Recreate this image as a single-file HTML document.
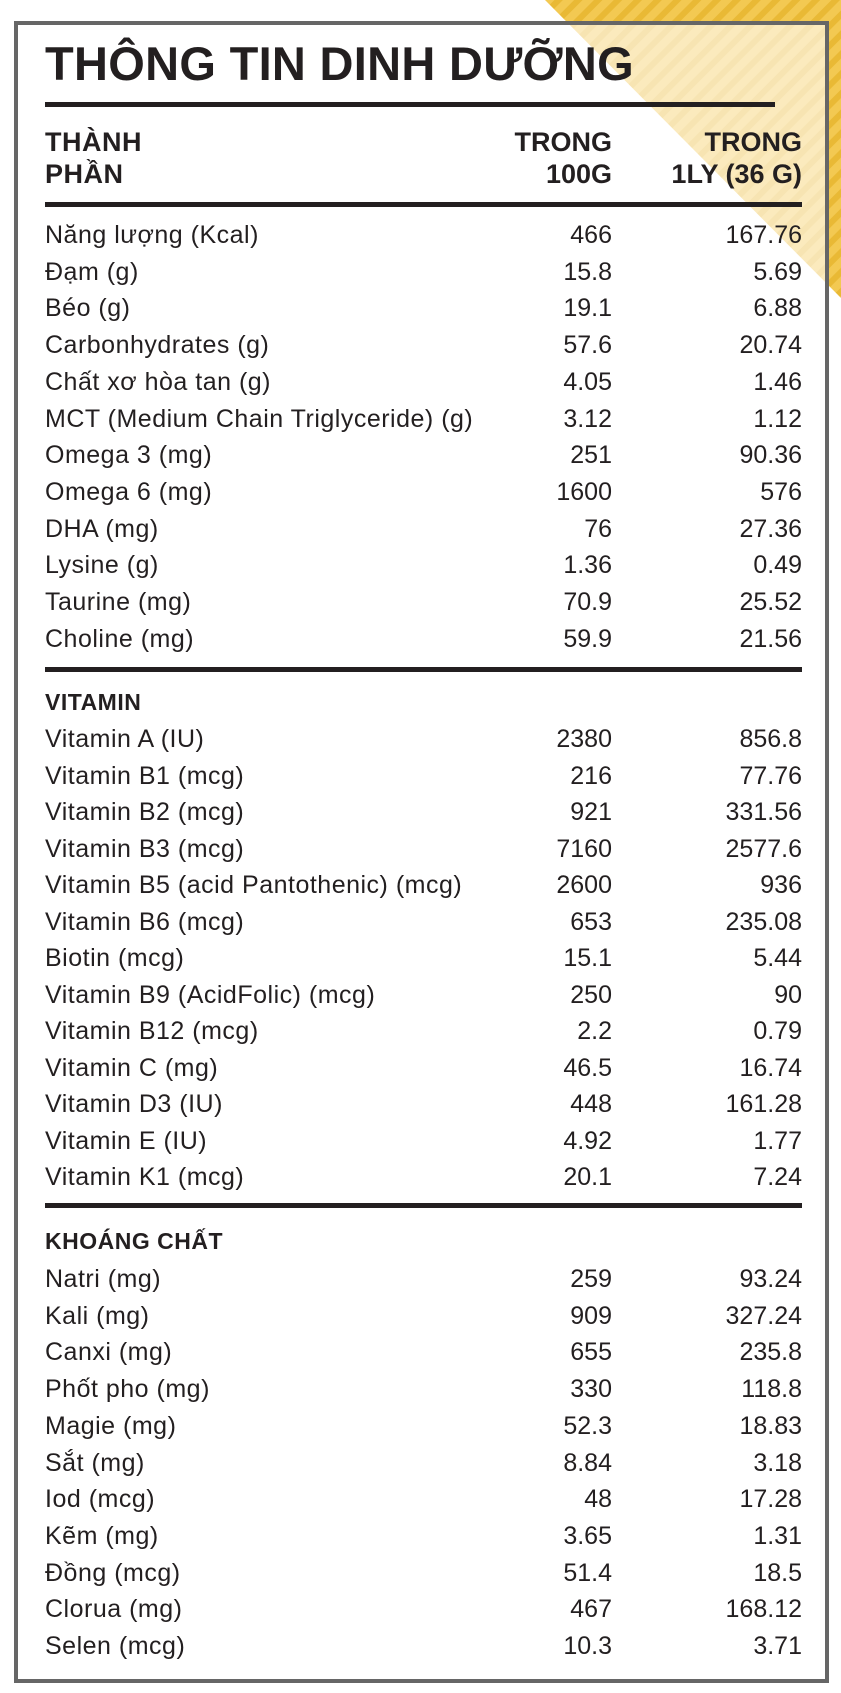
<!DOCTYPE html>
<html><head><meta charset="utf-8"><style>
body{margin:0;width:841px;height:1693px;position:relative;background:#fff;overflow:hidden;font-family:"Liberation Sans",sans-serif;color:#231f20}
.t{position:absolute;line-height:30px;height:30px;white-space:nowrap;font-size:25px}
.l{left:45px;letter-spacing:0.5px}
.a{right:229px;text-align:right}
.b{right:39px;text-align:right}
.bd{font-weight:bold}
.ln{position:absolute;background:#231f20;height:5px}
</style></head><body>
<svg width="841" height="1693" style="position:absolute;left:0;top:0">
<defs><pattern id="p" width="14" height="14" patternUnits="userSpaceOnUse" patternTransform="rotate(45)">
<rect width="14" height="14" fill="#f3c952"/><rect width="6" height="14" fill="#e9b935"/></pattern></defs>
<polygon points="545,0 841,0 841,298" fill="url(#p)"/>
<rect x="16" y="23" width="811" height="1658" fill="rgba(255,255,255,0.62)"/>
<rect x="16" y="23" width="811" height="1658" fill="none" stroke="#666" stroke-width="4"/>
</svg>
<div class="t l bd" style="top:34px;height:60px;line-height:60px;font-size:47px;letter-spacing:0.3px">THÔNG TIN DINH DƯỠNG</div>
<div class="ln" style="left:45px;width:730px;top:102px"></div>
<div class="t l bd" style="top:127px;font-size:27px">THÀNH</div>
<div class="t l bd" style="top:159px;font-size:27px">PHẦN</div>
<div class="t a bd" style="top:127px;font-size:27px">TRONG</div>
<div class="t a bd" style="top:159px;font-size:27px">100G</div>
<div class="t b bd" style="top:127px;font-size:27px">TRONG</div>
<div class="t b bd" style="top:159px;font-size:27px">1LY (36 G)</div>
<div class="ln" style="left:45px;width:757px;top:202px"></div>
<div id="c"></div>
<div class="ln" style="left:45px;width:757px;top:667px"></div>
<div class="t l bd" style="top:687px;font-size:23px">VITAMIN</div>
<div class="ln" style="left:45px;width:757px;top:1203px"></div>
<div class="t l bd" style="top:1226px;font-size:23px">KHOÁNG CHẤT</div>
<script>
var s1=[["Năng lượng (Kcal)","466","167.76"],["Đạm (g)","15.8","5.69"],["Béo (g)","19.1","6.88"],["Carbonhydrates (g)","57.6","20.74"],["Chất xơ hòa tan (g)","4.05","1.46"],["MCT (Medium Chain Triglyceride) (g)","3.12","1.12"],["Omega 3 (mg)","251","90.36"],["Omega 6 (mg)","1600","576"],["DHA (mg)","76","27.36"],["Lysine (g)","1.36","0.49"],["Taurine (mg)","70.9","25.52"],["Choline (mg)","59.9","21.56"]];
var s2=[["Vitamin A (IU)","2380","856.8"],["Vitamin B1 (mcg)","216","77.76"],["Vitamin B2 (mcg)","921","331.56"],["Vitamin B3 (mcg)","7160","2577.6"],["Vitamin B5 (acid Pantothenic) (mcg)","2600","936"],["Vitamin B6 (mcg)","653","235.08"],["Biotin (mcg)","15.1","5.44"],["Vitamin B9 (AcidFolic) (mcg)","250","90"],["Vitamin B12 (mcg)","2.2","0.79"],["Vitamin C (mg)","46.5","16.74"],["Vitamin D3 (IU)","448","161.28"],["Vitamin E (IU)","4.92","1.77"],["Vitamin K1 (mcg)","20.1","7.24"]];
var s3=[["Natri (mg)","259","93.24"],["Kali (mg)","909","327.24"],["Canxi (mg)","655","235.8"],["Phốt pho (mg)","330","118.8"],["Magie (mg)","52.3","18.83"],["Sắt (mg)","8.84","3.18"],["Iod (mcg)","48","17.28"],["Kẽm (mg)","3.65","1.31"],["Đồng (mcg)","51.4","18.5"],["Clorua (mg)","467","168.12"],["Selen (mcg)","10.3","3.71"]];
var h="";
function add(arr,y0,st){arr.forEach(function(r,i){var y=Math.round(y0+i*st-15);
h+='<div class="t l" style="top:'+y+'px">'+r[0]+'</div><div class="t a" style="top:'+y+'px">'+r[1]+'</div><div class="t b" style="top:'+y+'px">'+r[2]+'</div>';});}
add(s1,235,36.7);add(s2,739,36.5);add(s3,1279,36.7);
document.getElementById("c").innerHTML=h;
</script>
</body></html>
